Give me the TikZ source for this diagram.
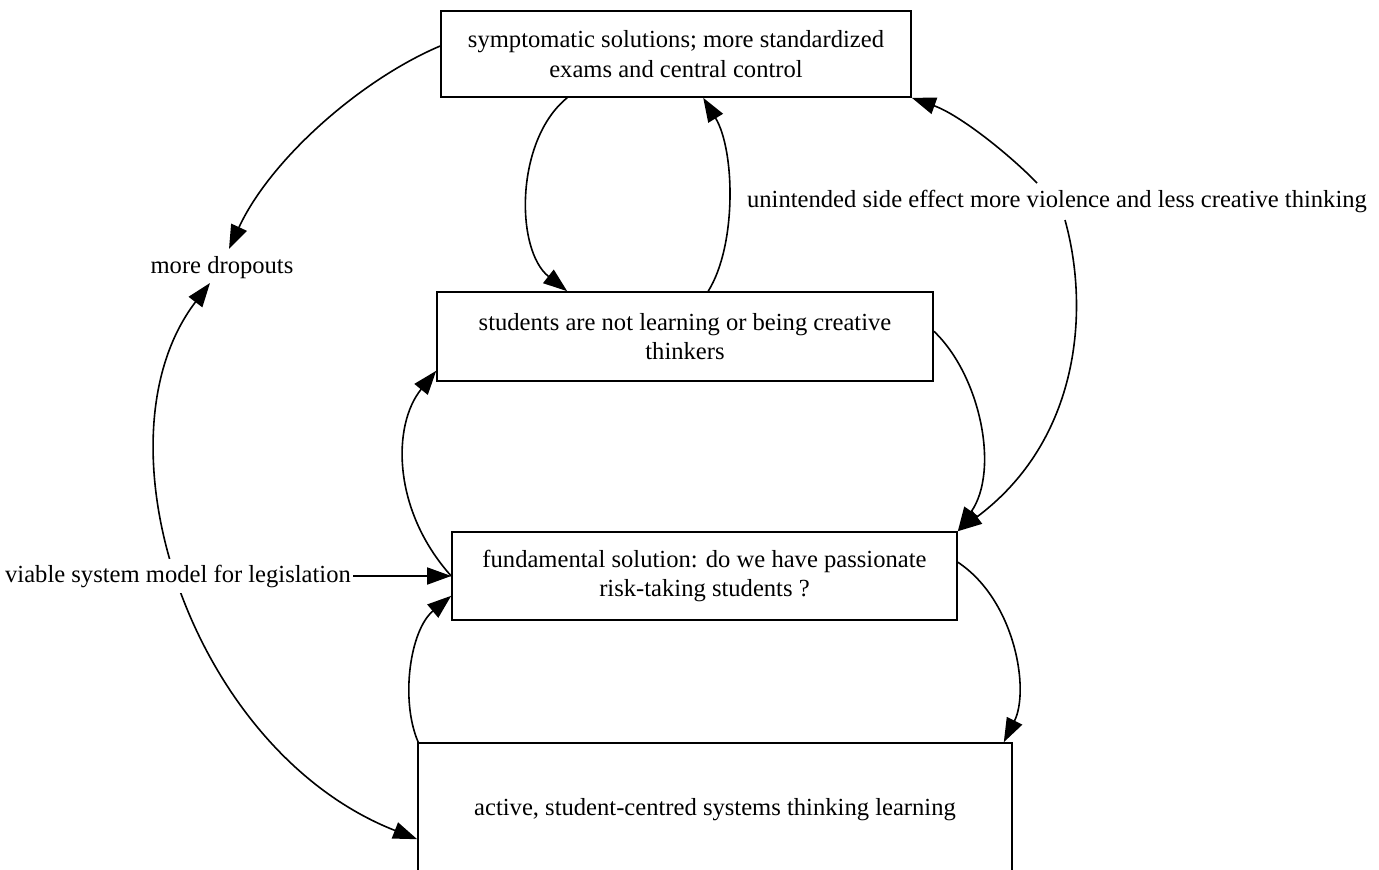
\documentclass[tikz,border=0pt]{standalone}
\usepackage{fontspec}
\setmainfont{Liberation Serif}
\usetikzlibrary{arrows.meta,calc}
\tikzset{
  txt/.style={font=\fontsize{24.6}{29.5}\selectfont},
  box/.style={txt, draw, line width=1.6pt, rectangle, inner sep=0pt, align=center},
  lbl/.style={txt, inner sep=3pt},
  link/.style={line width=1.6pt, -{Triangle[length=24pt,width=17pt]}},
  duallink/.style={line width=1.6pt, {Triangle[length=24pt,width=17pt]}-{Triangle[length=24pt,width=17pt]}},
}
\begin{document}
\begin{tikzpicture}[x=1pt,y=-1pt]
\useasboundingbox (0,0) rectangle (1379,870);

% boxes
\node[box, minimum width=470pt, minimum height=86pt] (sym) at (676,54)
  {symptomatic solutions; more standardized\\exams and central control};
\node[box, minimum width=496pt, minimum height=89pt] (stu) at (685,336.5)
  {students are not learning or being creative\\thinkers};
\node[box, minimum width=505pt, minimum height=88pt] (fund) at (704.5,576)
  {fundamental solution: do we have passionate\\risk-taking students ?};
\node[box, minimum width=594pt, minimum height=134pt] (act) at (715,810)
  {active, student-centred systems thinking learning};

% free labels
\node[lbl] (drop) at (222,268) {more dropouts};
\node[lbl] (une) at (1057,201) {unintended side effect more violence and less creative thinking};

% long loop on the left, passing behind the legislation label
\draw[duallink] ($(drop.center)+(-12,15)$) .. controls (90,440) and (190,750) .. ($(act.north west)+(0,97)$);

\node[lbl, fill=white, inner xsep=2pt, inner ysep=6pt] (vsm) at (178,576) {viable system model for legislation};

% connectors
\draw[link] ($(sym.west)+(0,-8)$) .. controls (360,80) and (270,160) .. ($(drop.center)+(7,-19)$);
\draw[link] ($(sym.south west)+(127,0)$) .. controls (515,140) and (515,250) .. ($(stu.north west)+(131,0)$);
\draw[link] ($(stu.north west)+(272,0)$) .. controls (737,245) and (735,150) .. ($(sym.south west)+(263,0)$);
\draw[link] ($(une.center)+(-20,-18)$) .. controls (1010,155) and (960,115) .. (sym.south east);
\draw[link] ($(une.center)+(8,19)$) .. controls (1090,310) and (1080,440) .. (fund.north east);
\draw[link] ($(stu.north east)+(0,40)$) .. controls (980,375) and (1000,470) .. (fund.north east);
\draw[link] (fund.west) .. controls (392,510) and (392,425) .. ($(stu.south west)+(0,-11)$);
\draw[link] (vsm.east) -- (fund.west);
\draw[link] ($(act.north west)+(1,0)$) .. controls (400,700) and (410,630) .. ($(fund.south west)+(0,-25)$);
\draw[link] ($(fund.north east)+(0,31)$) .. controls (1015,600) and (1030,690) .. ($(act.north east)+(-9,0)$);
\end{tikzpicture}
\end{document}
